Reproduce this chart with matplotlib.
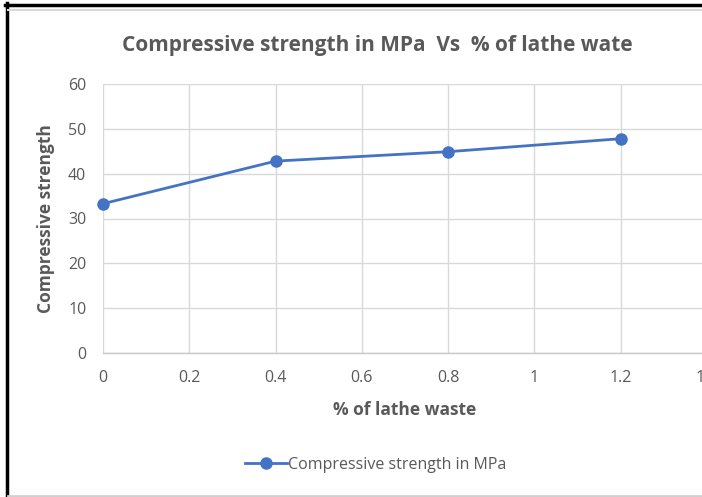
import matplotlib
matplotlib.use("Agg")
import matplotlib.pyplot as plt
from matplotlib.lines import Line2D

# data
lathe_waste = [0, 0.4, 0.8, 1.2]
strength = [33.3, 42.8, 44.9, 47.8]
x_ticks = [0, 0.2, 0.4, 0.6, 0.8, 1, 1.2, 1.4]
x_tick_labels = ["0", "0.2", "0.4", "0.6", "0.8", "1", "1.2", "1.4"]
y_ticks = [0, 10, 20, 30, 40, 50, 60]

plt.rcParams['font.family'] = ['Open Sans', 'DejaVu Sans']

W, H = 702, 497
fig = plt.figure(figsize=(W / 100, H / 100), dpi=100)

def fx(px):
    return px / W

def fy(py):
    return 1 - py / H

# plot area: x=0 at px 103, x=1.4 at ~707 (cut by the image edge)
ax = fig.add_axes([fx(103), fy(353), fx(707) - fx(103), fy(84) - fy(353)])
ax.plot(lathe_waste, strength, color='#4472C4', linewidth=2.0,
        marker='o', markersize=8, markerfacecolor='#4472C4',
        markeredgecolor='#4472C4', zorder=3, clip_on=False)

ax.set_xlim(0, 1.4)
ax.set_ylim(0, 60)
ax.set_xticks(x_ticks)
ax.set_xticklabels(x_tick_labels)
ax.set_yticks(y_ticks)
ax.grid(True, color='#d9d9d9', linewidth=1.0)
ax.set_axisbelow(True)
for s in ['top', 'right', 'left']:
    ax.spines[s].set_visible(False)
ax.spines['bottom'].set_color('#c8c8c8')
ax.spines['bottom'].set_linewidth(1.0)
ax.tick_params(length=0, labelsize=11.5, labelcolor='#595959')
ax.tick_params(axis='x', pad=12)
ax.tick_params(axis='y', pad=12)

fig.text(fx(377), fy(45), "Compressive strength in MPa  Vs  % of lathe wate",
         ha='center', va='center', fontsize=15, fontweight='bold', color='#595959')
fig.text(fx(405), fy(410), "% of lathe waste", ha='center', va='center',
         fontsize=12.5, fontweight='bold', color='#595959')
fig.text(fx(46), fy(219), "Compressive strength", ha='center', va='center',
         rotation=90, fontsize=12.5, fontweight='bold', color='#595959')

# legend
handle = Line2D([], [], color='#4472C4', linewidth=2.0, marker='o',
                markersize=8, markerfacecolor='#4472C4')
fig.legend([handle], ["Compressive strength in MPa"], loc='center',
           bbox_to_anchor=(fx(376), fy(465)), frameon=False, fontsize=11.5,
           labelcolor='#595959', handlelength=2.6, handletextpad=0.1)

# frame lines of the screenshot
fig.add_artist(Line2D([fx(5), 1], [fy(4.5), fy(4.5)], color='black', linewidth=2.5))
fig.add_artist(Line2D([fx(6.5), fx(6.5)], [fy(3), 0], color='black', linewidth=2.5))
fig.add_artist(Line2D([fx(8), 1], [fy(10), fy(10)], color='#d9d9d9', linewidth=1.5))
fig.add_artist(Line2D([fx(8), 1], [fy(495.5), fy(495.5)], color='#d0d0d0', linewidth=2))

fig.savefig("out.png", dpi=100)
